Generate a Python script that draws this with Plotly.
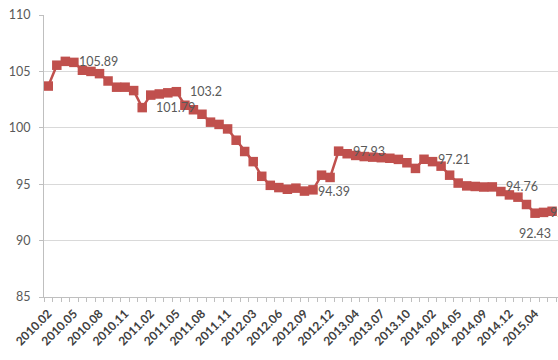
import plotly.graph_objects as go

# Monthly index series (Feb 2010 - Jun 2015); Jan is merged into Feb in some years
months = [
    "2010.02", "2010.03", "2010.04", "2010.05", "2010.06", "2010.07", "2010.08",
    "2010.09", "2010.10", "2010.11", "2010.12", "2011.01", "2011.02", "2011.03",
    "2011.04", "2011.05", "2011.06", "2011.07", "2011.08", "2011.09", "2011.10",
    "2011.11", "2011.12", "2012.02", "2012.03", "2012.04", "2012.05", "2012.06",
    "2012.07", "2012.08", "2012.09", "2012.10", "2012.11", "2012.12", "2013.01",
    "2013.03", "2013.04", "2013.05", "2013.06", "2013.07", "2013.08", "2013.09",
    "2013.10", "2013.11", "2013.12", "2014.02", "2014.03", "2014.04", "2014.05",
    "2014.06", "2014.08", "2014.09", "2014.10", "2014.11", "2014.12", "2015.01",
    "2015.03", "2015.04", "2015.05", "2015.06",
]
values = [
    103.7, 105.55, 105.89, 105.8, 105.1, 105.0, 104.8,
    104.15, 103.6, 103.6, 103.3, 101.79, 102.9, 103.0,
    103.1, 103.2, 102.0, 101.6, 101.2, 100.5, 100.3,
    99.9, 98.9, 97.9, 97.0, 95.7, 94.9, 94.7,
    94.55, 94.65, 94.39, 94.5, 95.8, 95.6, 97.93,
    97.7, 97.55, 97.45, 97.4, 97.35, 97.3, 97.2,
    96.9, 96.4, 97.21, 97.0, 96.6, 95.8, 95.1,
    94.85, 94.8, 94.75, 94.76, 94.35, 94.05, 93.85,
    93.2, 92.43, 92.5, 92.6,
]

# Points carrying a value label, where the label sits and its offset in px
label_points = [2, 11, 15, 30, 34, 44, 52, 57, 58]
label_sides = ["right", "right", "right", "right", "right", "right", "right", "below", "right"]
label_shift = [12, 12, 12, 12, 12, 12, 12, 0, 4]

# Tick labels every third month
tick_idx = list(range(0, len(months), 3))
tick_text = [months[i] for i in tick_idx]

x = list(range(len(months)))
red = "#c0504d"

fig = go.Figure()
fig.add_trace(go.Scatter(
    x=x, y=values, mode="lines+markers",
    line=dict(color=red, width=2.5),
    marker=dict(symbol="square", size=9.5, color=red),
    hoverinfo="skip", showlegend=False,
))

annotations = []
for i, side, shift in zip(label_points, label_sides, label_shift):
    v = values[i]
    txt = f"{v:g}"
    font = dict(family="Lato", size=12.5, color="#595959")
    if side == "right":
        annotations.append(dict(x=i, y=v, text=txt, showarrow=False,
                                xanchor="left", yanchor="middle", xshift=shift,
                                font=font))
    else:
        annotations.append(dict(x=i, y=v, text=txt, showarrow=False,
                                xanchor="center", yanchor="top", yshift=-11,
                                font=font))

fig.update_layout(
    width=558, height=360,
    margin=dict(l=44, r=0, t=15, b=63),
    paper_bgcolor="white", plot_bgcolor="white",
    font=dict(family="Lato", color="#595959"),
    annotations=annotations,
    xaxis=dict(
        range=[-0.5, 59.69],
        tickmode="array", tickvals=tick_idx, ticktext=tick_text,
        tickangle=-45, ticks="",
        tickfont=dict(family="Lato", size=12, color="#404040", weight="bold"),
        ticklabelstandoff=4,
        showgrid=False, zeroline=False,
        showline=True, linecolor="#bfbfbf", linewidth=1,
        minor=dict(tickmode="linear", tick0=-0.5, dtick=1, ticks="outside",
                   ticklen=4, tickcolor="#bfbfbf", showgrid=False),
    ),
    yaxis=dict(
        range=[85, 110], tickmode="linear", tick0=85, dtick=5,
        ticks="outside", ticklen=4, tickcolor="#bfbfbf",
        tickfont=dict(family="Lato", size=12.5, color="#595959"),
        showgrid=True, gridcolor="#d9d9d9", gridwidth=1,
        zeroline=False, showline=True, linecolor="#bfbfbf", linewidth=1,
        ticklabelstandoff=6,
    ),
)

fig.write_html("out.html")
